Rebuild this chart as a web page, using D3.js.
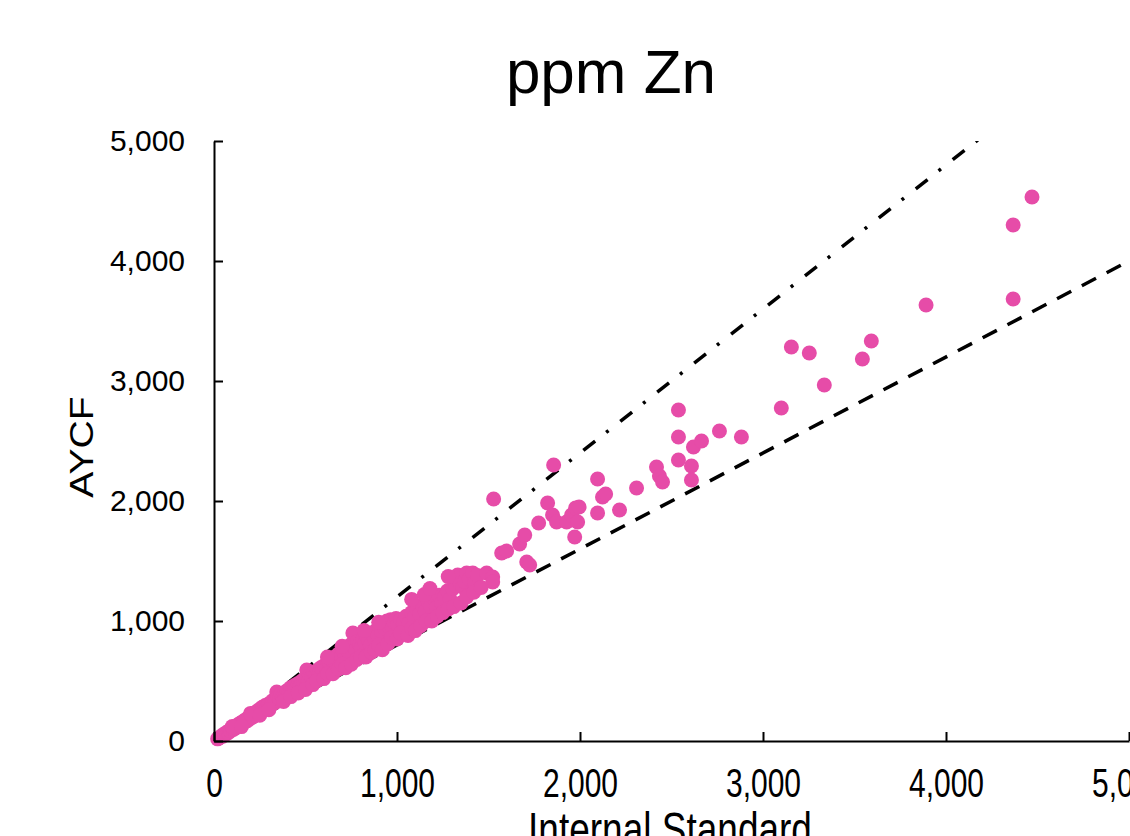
<!DOCTYPE html>
<html>
<head>
<meta charset="utf-8">
<script src="https://cdn.jsdelivr.net/npm/d3@7"></script>
<style>
  body { margin: 0; background: #fff; }
  svg { display: block; font-family: "Liberation Sans", Arial, sans-serif; }
</style>
</head>
<body>
<svg id="chart" width="1130" height="836" viewBox="0 0 1130 836"></svg>
<script>
// Internal Standard (x) vs AYCF (y), ppm Zn
const internalStd = [
  20, 30, 40, 48, 55, 62, 70, 78, 85, 92, 100, 108, 115, 122, 130, 138, 145, 152, 160, 168,
  175, 182, 190, 198, 205, 212, 220, 228, 235, 242, 250, 258, 265, 272, 280, 290, 300, 310, 320, 330,
  343, 350, 358, 366, 375, 384, 392, 400, 410, 420, 430, 440, 450, 460, 470, 480, 490, 500, 507, 515,
  525, 535,
  545, 555, 565, 575, 585, 595, 605, 615, 625, 635, 645, 655, 665, 675, 685, 695, 705, 715, 725, 735,
  745, 759, 765, 775, 785, 795, 805, 815, 825, 835, 845, 855, 865, 875, 885, 895, 905, 915, 925, 935,
  945, 955, 965, 975, 985, 995, 1005,
  1020, 1035, 1050, 1065, 1080, 1095, 1110, 1125, 1140, 1155, 1170, 1185, 1200, 1215, 1230, 1245, 1260, 1275, 1290, 1305,
  1320, 1332, 1345, 1359, 1370, 1381, 1395, 1414, 1425, 1440, 1490, 1523, 1523,
  380, 420, 460, 500, 540, 560, 600, 620, 650, 680, 700, 720, 750, 780, 800, 830, 860, 880, 900, 920,
  950, 970, 1000, 1020, 1060, 1080, 1100, 1130, 1160, 1190, 1220, 1250, 1280, 1310, 1350, 1380, 1420, 1460,
  620, 700, 820, 900, 1080, 1150, 1180, 1280,
  100, 150, 200, 250, 300,
  1528, 1572, 1599, 1670, 1698, 1709, 1725, 1774, 1823, 1850, 1856, 1872, 1927, 1954, 1971, 1976, 1987, 1995,
  2096, 2096, 2123, 2140, 2216, 2309, 2418, 2434, 2451, 2538, 2538, 2538, 2609, 2609, 2620, 2664, 2762, 2882,
  3100, 3155, 3253, 3335, 3543, 3592, 3891, 4367, 4367, 4470
];
const aycf = [
  18, 28, 42, 40, 58, 55, 72, 70, 88, 85, 105, 98, 120, 112, 135, 128, 150, 140, 165, 158,
  180, 170, 198, 188, 215, 200, 232, 218, 248, 230, 265, 250, 282, 262, 295, 280, 310, 295, 335, 318,
  408, 370, 352, 392, 372, 398, 380, 420, 402, 445, 425, 462, 440, 480, 458, 500, 478, 520, 592, 500,
  548, 528,
  570, 548, 590, 568, 612, 590, 630, 605, 655, 632, 680, 655, 705, 680, 728, 702, 750, 725, 770, 745,
  800, 900, 790, 760, 830, 805, 780, 850, 820, 870, 840, 800, 890, 860, 920, 880, 950, 910, 970, 935,
  1000, 960, 1010, 940, 985, 1020, 970,
  1010, 985, 1040, 980, 1070, 1030, 1100, 1060, 1130, 1080, 1160, 1120, 1190, 1110, 1215, 1150, 1200, 1250, 1180, 1270,
  1300, 1383, 1310, 1283, 1330, 1400, 1350, 1400, 1320, 1380, 1400, 1367, 1325,
  330, 370, 400, 430, 470, 500, 520, 560, 560, 600, 640, 610, 640, 680, 700, 700, 740, 760, 800, 760,
  810, 860, 850, 900, 880, 940, 920, 960, 1000, 1000, 1040, 1070, 1100, 1120, 1150, 1200, 1240, 1280,
  700, 790, 920, 990, 1180, 1220, 1270, 1370,
  120, 120, 230, 215, 260,
  2017, 1567, 1583, 1642, 1717, 1492, 1467, 1817, 1983, 1883, 2300, 1825, 1825, 1883, 1700, 1942, 1825, 1950,
  2183, 1900, 2033, 2058, 1925, 2108, 2283, 2208, 2158, 2758, 2533, 2342, 2292, 2175, 2450, 2500, 2583, 2533,
  2775, 3283, 3233, 2967, 3183, 3333, 3633, 3683, 4300, 4533
];
const tickValues = [0, 1000, 2000, 3000, 4000, 5000];
const ratioSlopes = [1.2, 0.8];           // +20% / -20% guide lines
const ratioDashes = ["15,14,3,15", "16,12"];

const svg = d3.select("#chart");
const plotLeft = 214, plotRight = 1129, plotTop = 141, plotBottom = 741;

const x = d3.scaleLinear().domain([0, 5000]).range([plotLeft, plotRight]);
const y = d3.scaleLinear().domain([0, 5000]).range([plotBottom, plotTop]);
const fmt = d3.format(",");

// Title
svg.append("text")
  .attr("x", 611).attr("y", 93)
  .attr("text-anchor", "middle")
  .attr("font-size", "62px")
  .text("ppm Zn");

// Guide lines, clipped to plot area (drawn under the points)
svg.append("clipPath").attr("id", "plotClip")
  .append("rect")
  .attr("x", plotLeft).attr("y", plotTop)
  .attr("width", plotRight - plotLeft + 10).attr("height", plotBottom - plotTop);

const line = d3.line().x(d => x(d[0])).y(d => y(d[1]));
svg.append("g").attr("clip-path", "url(#plotClip)")
  .selectAll("path")
  .data(ratioSlopes)
  .join("path")
  .attr("d", s => line([[0, 0], [5200, 5200 * s]]))
  .attr("fill", "none")
  .attr("stroke", "#000")
  .attr("stroke-width", 3.5)
  .attr("stroke-dasharray", (s, i) => ratioDashes[i]);

// Points
const pts = internalStd.map((v, i) => ({ xv: v, yv: aycf[i] }));
svg.append("g")
  .selectAll("circle")
  .data(pts)
  .join("circle")
  .attr("cx", d => x(d.xv))
  .attr("cy", d => y(d.yv))
  .attr("r", 7.5)
  .attr("fill", "#e64ca8");

// Y axis
const yAxis = svg.append("g")
  .attr("transform", `translate(${plotLeft},0)`)
  .call(d3.axisLeft(y).tickValues(tickValues).tickFormat(fmt)
    .tickSizeInner(-9).tickSizeOuter(0).tickPadding(29));
yAxis.selectAll("text").attr("font-size", "30px").attr("fill", "#000")
  .attr("font-family", "Liberation Sans, Arial, sans-serif");

// X axis
const xAxis = svg.append("g")
  .attr("transform", `translate(0,${plotBottom})`)
  .call(d3.axisBottom(x).tickValues(tickValues).tickFormat(fmt)
    .tickSizeInner(-9).tickSizeOuter(0));
xAxis.selectAll("text")
  .attr("font-size", "30px").attr("fill", "#000")
  .attr("font-family", "Liberation Sans, Arial, sans-serif")
  .attr("dy", null)
  .attr("y", 56 / 1.35)
  .attr("transform", "scale(1,1.35)");

svg.selectAll(".domain, .tick line").attr("stroke", "#000").attr("stroke-width", 2);

// Axis titles
svg.append("text")
  .attr("transform", "translate(93,447) rotate(-90) scale(1.15,1)")
  .attr("text-anchor", "middle")
  .attr("font-size", "34px")
  .text("AYCF");

svg.append("text")
  .attr("transform", "translate(670,846) scale(1,1.3)")
  .attr("text-anchor", "middle")
  .attr("font-size", "37px")
  .text("Internal Standard");
</script>
</body>
</html>
